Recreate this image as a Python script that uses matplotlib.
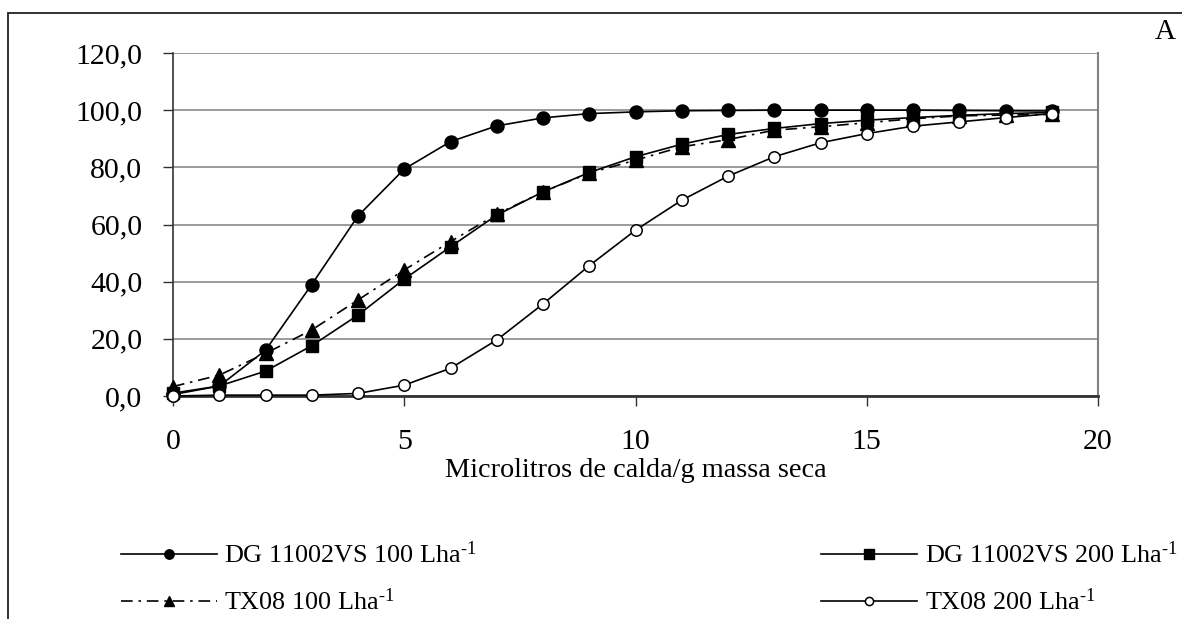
import numpy as np
import matplotlib
matplotlib.use("Agg")
import matplotlib.pyplot as plt
from matplotlib.patches import Rectangle
from matplotlib.ticker import FuncFormatter

plt.rcParams['font.family'] = ['Liberation Serif', 'DejaVu Serif']
plt.rcParams['mathtext.fontset'] = 'custom'
plt.rcParams['mathtext.rm'] = 'Liberation Serif'
plt.rcParams['mathtext.it'] = 'Liberation Serif:italic'

# microlitros de calda por g de massa seca
dose = list(range(20))

dg_100 = [0.5, 3.5, 16, 39, 63, 79.4, 89, 94.5, 97.3, 98.8, 99.4, 99.8, 99.9, 100,
          100, 100, 100, 99.9, 99.8, 99.7]
dg_200 = [1, 3.5, 8.7, 17.6, 28.3, 40.9, 52.2, 63.3, 71.4, 78.2, 83.7, 88.1, 91.5,
          93.6, 95.3, 96.5, 97.4, 98.2, 98.8, 99.2]
tx_100 = [3.3, 7.3, 14.9, 23.1, 33.6, 44.1, 54, 63.6, 71.4, 78, 82.5, 87.2, 89.7,
          93, 94.2, 95.6, 97, 98, 98.3, 98.5]
tx_200 = [0, 0.3, 0.3, 0.3, 0.9, 3.8, 9.7, 19.6, 32.2, 45.6, 58, 68.5, 76.9, 83.7,
          88.6, 91.8, 94.4, 95.9, 97.4, 98.8]

sup = r'$^{\text{-}1}$'
labels = ['DG 11002VS 100 Lha' + sup, 'DG 11002VS 200 Lha' + sup,
          'TX08 100 Lha' + sup, 'TX08 200 Lha' + sup]

fig = plt.figure(figsize=(11.82, 6.19), dpi=100)
ax = fig.add_axes([173/1182, 1 - 396/619, (1098-173)/1182, (396-53)/619])

# moldura externa
fig.patches.append(Rectangle((8/1182, -0.1), 1.2, (1 - 13/619) + 0.1,
                             transform=fig.transFigure, fill=False,
                             edgecolor='#222222', linewidth=1.3))
fig.text(1165/1182, 1 - 32/619, 'A', fontsize=21, ha='center', va='center')

lw = 1.2
h1, = ax.plot(dose, dg_100, '-', color='black', lw=lw, marker='o', ms=9.4,
              clip_on=False, zorder=4)
h2, = ax.plot(dose, dg_200, '-', color='black', lw=lw, marker='s', ms=9.2,
              clip_on=False, zorder=4)
h3, = ax.plot(dose, tx_100, color='black', lw=lw, ls=(0, (7, 3.5, 1.5, 3.5)),
              marker='^', ms=10, clip_on=False, zorder=3)
h4, = ax.plot(dose, tx_200, '-', color='black', lw=lw, marker='o', ms=8.2,
              mfc='white', mec='black', mew=1.1, clip_on=False, zorder=5)

ax.set_xlim(0, 20)
ax.set_ylim(0, 120)
ax.set_xticks([0, 5, 10, 15, 20])
ax.set_yticks(np.arange(0, 121, 20))
ax.yaxis.set_major_formatter(FuncFormatter(lambda v, p: f'{v:.1f}'.replace('.', ',')))
ax.yaxis.grid(True, color='#808080', lw=1.1)
ax.set_axisbelow(True)
ax.tick_params(axis='both', direction='out', length=7, width=1, labelsize=21.5,
               color='#333333')
ax.tick_params(axis='x', pad=17)
ax.tick_params(axis='y', pad=15)

ax.spines['top'].set_visible(False)
ax.spines['right'].set_color('#808080')
ax.spines['right'].set_linewidth(1.5)
ax.spines['left'].set_color('#333333')
ax.spines['left'].set_linewidth(1.2)
ax.spines['bottom'].set_color('#333333')
ax.spines['bottom'].set_linewidth(2)

ax.set_xlabel('Microlitros de calda/g massa seca', fontsize=20.3, labelpad=2)

# legenda em duas colunas, preenchida por linha
fig.legend([h1, h3, h2, h4], [labels[0], labels[2], labels[1], labels[3]],
           ncol=2, loc='upper left', bbox_to_anchor=(97/1182, 1 - 518/619),
           frameon=False, fontsize=18.8, handlelength=3.68, handletextpad=0.3,
           columnspacing=13.2, labelspacing=0.8, markerscale=0.72)

fig.savefig('out.png', dpi=100)
